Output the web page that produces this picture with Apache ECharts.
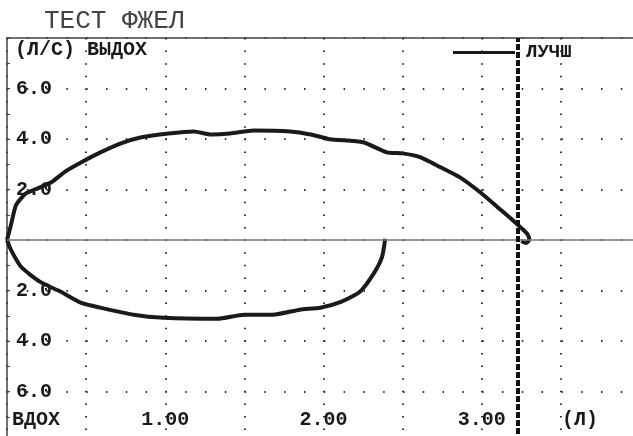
<!DOCTYPE html>
<html lang="ru">
<head>
<meta charset="UTF-8">
<title>ТЕСТ ФЖЕЛ</title>
<script src="https://cdn.jsdelivr.net/npm/echarts@6/dist/echarts.min.js"></script>
</head>
<body style="margin:0;background:#fff">
<div id="main" style="width:633px;height:436px"></div>
<script>
// выдох (верхняя часть петли): объём, л / поток, л/с
var exhaleVol  = [0, 0.025, 0.057, 0.12, 0.18, 0.28, 0.37, 0.47, 0.59, 0.72, 0.85, 1.02, 1.18, 1.29, 1.41, 1.56, 1.79, 1.92, 2.04, 2.25, 2.40, 2.50, 2.61, 2.74, 2.86, 2.99, 3.10, 3.18, 3.23, 3.26, 3.29, 3.30, 3.28, 3.25];
var exhaleFlow = [0, 0.59, 1.38, 1.85, 2.01, 2.29, 2.72, 3.08, 3.47, 3.83, 4.07, 4.22, 4.30, 4.18, 4.22, 4.34, 4.30, 4.18, 3.99, 3.87, 3.47, 3.43, 3.28, 2.88, 2.49, 1.89, 1.30, 0.87, 0.59, 0.42, 0.22, 0.02, -0.12, -0.04];
// вдох (нижняя часть петли), поток откладывается вниз
var inhaleVol  = [0, 0.025, 0.09, 0.21, 0.34, 0.47, 0.59, 0.80, 0.99, 1.33, 1.50, 1.68, 1.85, 1.98, 2.11, 2.23, 2.32, 2.37, 2.39];
var inhaleFlow = [0, -0.39, -1.07, -1.66, -2.05, -2.49, -2.68, -2.96, -3.08, -3.12, -2.96, -2.96, -2.76, -2.68, -2.45, -2.05, -1.30, -0.67, 0.05];
var bestVolume = 3.23;
var yTickLabels = [-6, -4, -2, 2, 4, 6];
var xTickLabels = [1, 2, 3];

var font = 'Liberation Mono';
var ink = '#1a1a1a';

function pairs(xs, ys) {
    var out = [];
    for (var i = 0; i < xs.length; i++) out.push([xs[i], ys[i]]);
    return out;
}

var myChart = echarts.init(document.getElementById('main'));
var option = {
    animation: false,
    backgroundColor: '#fff',
    // сетка шире окна: правый и нижний край уходят за кадр
    grid: { left: 7, top: 38, width: 633, height: 404, outerBoundsMode: 'none' },
    legend: {
        data: ['ЛУЧШ'],
        left: 448, top: 38,
        icon: 'rect', itemWidth: 62, itemHeight: 3,
        textStyle: { fontFamily: font, fontWeight: 'bold', fontSize: 19, color: ink, padding: [0, 0, 0, 6] }
    },
    graphic: [
        { type: 'text', left: 44, top: 8, style: { text: 'ТЕСТ ФЖЕЛ', font: '26px "Liberation Mono"', fill: '#444' } },
        { type: 'text', left: 15, top: 40, style: { text: '(Л/С) ВЫДОХ', font: 'bold 20px "Liberation Mono"', fill: ink } },
        { type: 'text', left: 12, top: 410, style: { text: 'ВДОХ', font: 'bold 20px "Liberation Mono"', fill: ink } },
        { type: 'text', left: 562, top: 410, style: { text: '(Л)', font: 'bold 20px "Liberation Mono"', fill: ink } }
    ],
    xAxis: [{
        type: 'value', min: 0, max: 4, interval: 0.5,
        axisLine: { show: false }, axisTick: { show: false },
        axisLabel: {
            inside: true, margin: 12,
            fontFamily: font, fontWeight: 'bold', fontSize: 20, color: ink,
            formatter: function (v) { return xTickLabels.indexOf(v) >= 0 ? v.toFixed(2) : ''; }
        },
        splitLine: { show: true, lineStyle: { color: '#333', width: 2, type: [1.5, 11.1] } }
    }, {
        type: 'value', position: 'top', min: 0, max: 4,
        axisLine: { show: true, lineStyle: { color: '#444', width: 1.5 } },
        axisTick: { show: false }, axisLabel: { show: false }, splitLine: { show: false }
    }],
    yAxis: {
        type: 'value', min: -8, max: 8, interval: 2,
        axisLine: { show: true, lineStyle: { color: '#444', width: 1.5 } },
        axisTick: { show: true, inside: true, length: 3, lineStyle: { color: '#444' } },
        minorTick: { show: true, splitNumber: 2, length: 3, lineStyle: { color: '#444' } },
        axisLabel: {
            inside: true, margin: 9,
            fontFamily: font, fontWeight: 'bold', fontSize: 20, color: ink,
            formatter: function (v) { return yTickLabels.indexOf(v) >= 0 ? Math.abs(v).toFixed(1) : ''; }
        },
        splitLine: { show: true, lineStyle: { color: '#333', width: 2, type: [1.5, 18.3] } }
    },
    series: [{
        name: 'ЛУЧШ', type: 'line', showSymbol: false, smooth: 0.2,
        data: pairs(exhaleVol, exhaleFlow),
        lineStyle: { color: ink, width: 4 }, itemStyle: { color: ink },
        markLine: {
            silent: true, symbol: 'none', label: { show: false },
            data: [
                { yAxis: 0, lineStyle: { color: '#777', width: 1.5, type: 'solid' } },
                { xAxis: bestVolume, lineStyle: { color: '#111', width: 4, type: [6, 2] } }
            ]
        },
        z: 3
    }, {
        name: 'ЛУЧШ', type: 'line', showSymbol: false, smooth: 0.2,
        data: pairs(inhaleVol, inhaleFlow),
        lineStyle: { color: ink, width: 4 }, itemStyle: { color: ink },
        z: 3
    }]
};
myChart.setOption(option);
</script>
</body>
</html>
